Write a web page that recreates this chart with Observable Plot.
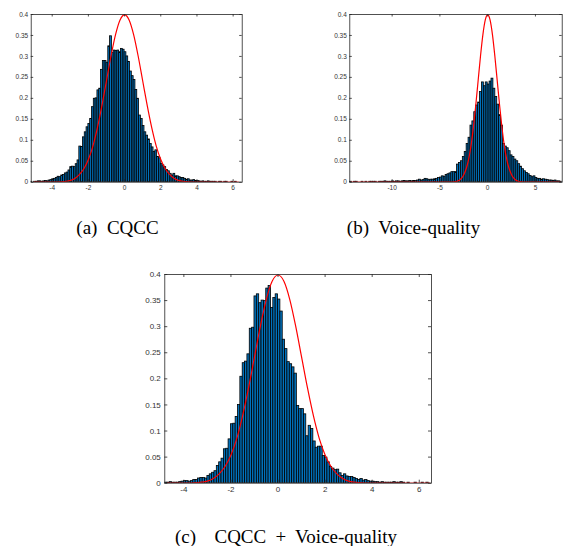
<!DOCTYPE html>
<html>
<head>
<meta charset="utf-8">
<script src="https://cdn.jsdelivr.net/npm/d3@7"></script>
<script src="https://cdn.jsdelivr.net/npm/@observablehq/plot@0.6"></script>
<style>
  html, body { margin: 0; padding: 0; background: #fff; }
  body { width: 563px; height: 546px; position: relative; overflow: hidden; }
  .panel { position: absolute; }
  #captions { position: absolute; left: 0; top: 0; }
</style>
</head>
<body>
<div id="pa" class="panel" style="left:0px;top:0px"></div>
<div id="pb" class="panel" style="left:320px;top:0px"></div>
<div id="pc" class="panel" style="left:130px;top:260px"></div>
<svg id="captions" width="563" height="546">
  <text x="117.5" y="234" text-anchor="middle" xml:space="preserve" font-family="Liberation Serif, Times New Roman, serif" font-size="19" fill="#000">(a)  CQCC</text>
  <text x="413.5" y="234" text-anchor="middle" xml:space="preserve" font-family="Liberation Serif, Times New Roman, serif" font-size="19" fill="#000">(b)  Voice-quality</text>
  <text x="286" y="543" text-anchor="middle" xml:space="preserve" font-family="Liberation Serif, Times New Roman, serif" font-size="19" fill="#000" style="word-spacing:4.5px">(c)  CQCC + Voice-quality</text>
</svg>
<script>
// ---------- shared data ----------
const yTicks = [0, 0.05, 0.1, 0.15, 0.2, 0.25, 0.3, 0.35, 0.4];

// red reference curve (standard-normal shape)
const curveX = [-4, -3.75, -3.5, -3.25, -3, -2.75, -2.5, -2.25, -2, -1.75, -1.5, -1.25, -1, -0.75, -0.5, -0.25,
                0, 0.25, 0.5, 0.75, 1, 1.25, 1.5, 1.75, 2, 2.25, 2.5, 2.75, 3, 3.25, 3.5, 3.75, 4];
const curveY = [0.000, 0.000, 0.001, 0.002, 0.004, 0.009, 0.018, 0.032, 0.054, 0.086, 0.130, 0.183, 0.242, 0.301, 0.352, 0.387,
                0.399, 0.387, 0.352, 0.301, 0.242, 0.183, 0.130, 0.086, 0.054, 0.032, 0.018, 0.009, 0.004, 0.002, 0.001, 0.000, 0.000];

// ---------- (a) CQCC ----------
const aXTicks = [-4, -2, 0, 2, 4, 6];
const aXDomain = [-5.16, 6.5];
const aCurveEnds = [-5.0, 6.3];
const aBinStart = -5.2, aBinWidth = 0.1;
const aDensity = [
  0.001, 0.000, 0.001, 0.001, 0.002, 0.002, 0.001, 0.002, 0.003, 0.002,
  0.004, 0.005, 0.007, 0.008, 0.010, 0.013, 0.012, 0.016, 0.017, 0.021,
  0.023, 0.028, 0.036, 0.037, 0.036, 0.043, 0.052, 0.085, 0.084, 0.107,
  0.119, 0.131, 0.139, 0.151, 0.179, 0.199, 0.200, 0.219, 0.223, 0.268,
  0.289, 0.289, 0.285, 0.324, 0.348, 0.308, 0.314, 0.313, 0.314, 0.310,
  0.318, 0.316, 0.310, 0.300, 0.287, 0.264, 0.253, 0.244, 0.220, 0.199,
  0.159, 0.151, 0.134, 0.119, 0.111, 0.102, 0.091, 0.083, 0.072, 0.076,
  0.060, 0.057, 0.044, 0.040, 0.036, 0.029, 0.026, 0.020, 0.016, 0.020,
  0.014, 0.014, 0.012, 0.010, 0.010, 0.008, 0.006, 0.007, 0.004, 0.004,
  0.005, 0.003, 0.003, 0.002, 0.001, 0.002, 0.001, 0.001, 0.002, 0.001,
  0.001, 0.001, 0.001, 0.000, 0.001, 0.001, 0.000, 0.001, 0.001, 0.000,
  0.000, 0.001, 0.000, 0.001
];

// ---------- (b) Voice-quality ----------
const bXTicks = [-10, -5, 0, 5];
const bXDomain = [-14.43, 7.8];
const bCurveEnds = [-14.3, 7.6];
const bBinStart = -14.6, bBinWidth = 0.2;
const bDensity = [
  0.001, 0.001, 0.000, 0.001, 0.001, 0.000, 0.000, 0.001, 0.000, 0.001,
  0.000, 0.001, 0.001, 0.001, 0.001, 0.000, 0.001, 0.001, 0.001, 0.002,
  0.001, 0.001, 0.001, 0.002, 0.001, 0.002, 0.002, 0.001, 0.002, 0.003,
  0.002, 0.002, 0.003, 0.002, 0.003, 0.003, 0.004, 0.006, 0.004, 0.005,
  0.008, 0.007, 0.005, 0.006, 0.006, 0.007, 0.008, 0.010, 0.011, 0.014,
  0.013, 0.017, 0.019, 0.021, 0.024, 0.024, 0.024, 0.042, 0.046, 0.050,
  0.060, 0.072, 0.091, 0.106, 0.135, 0.145, 0.167, 0.183, 0.190, 0.215,
  0.238, 0.229, 0.238, 0.233, 0.240, 0.247, 0.223, 0.203, 0.185, 0.160,
  0.135, 0.091, 0.085, 0.081, 0.074, 0.064, 0.060, 0.054, 0.050, 0.043,
  0.037, 0.031, 0.026, 0.022, 0.019, 0.015, 0.012, 0.014, 0.010, 0.008,
  0.008, 0.006, 0.007, 0.006, 0.005, 0.004, 0.004, 0.003, 0.004, 0.002,
  0.002, 0.001
];

// ---------- (c) CQCC + Voice-quality ----------
const cXTicks = [-4, -2, 0, 2, 4, 6];
const cXDomain = [-4.81, 6.52];
const cCurveEnds = [-4.7, 6.45];
const cBinStart = -4.8, cBinWidth = 0.1;
const cDensity = [
  0.001, 0.001, 0.002, 0.001, 0.001, 0.001, 0.002, 0.003, 0.004, 0.004,
  0.003, 0.004, 0.006, 0.006, 0.009, 0.010, 0.010, 0.009, 0.014, 0.017,
  0.020, 0.023, 0.033, 0.040, 0.047, 0.065, 0.066, 0.084, 0.113, 0.114,
  0.127, 0.150, 0.204, 0.230, 0.233, 0.247, 0.296, 0.298, 0.358, 0.362,
  0.345, 0.350, 0.349, 0.373, 0.378, 0.336, 0.355, 0.362, 0.352, 0.329,
  0.275, 0.257, 0.232, 0.228, 0.222, 0.210, 0.148, 0.142, 0.142, 0.132,
  0.090, 0.110, 0.104, 0.080, 0.068, 0.070, 0.070, 0.052, 0.049, 0.040,
  0.031, 0.028, 0.025, 0.026, 0.019, 0.014, 0.017, 0.013, 0.012, 0.012,
  0.010, 0.008, 0.006, 0.008, 0.005, 0.006, 0.004, 0.003, 0.003, 0.002,
  0.002, 0.001, 0.002, 0.001, 0.001, 0.001, 0.001, 0.002, 0.001, 0.001,
  0.002, 0.001, 0.000, 0.001, 0.000, 0.000, 0.001, 0.000, 0.000, 0.001,
  0.000, 0.001
];

// ---------- drawing ----------
function panel(cfg) {
  const {density, binStart, binWidth, xDomain, xTicks, curveEnds, W, H, m, fontSize, tick, pad} = cfg;
  const bins = density.map((v, i) => ({x1: binStart + i * binWidth, x2: binStart + (i + 1) * binWidth, v}));
  const curve = [{x: curveEnds[0], y: 0}]
    .concat(curveX.map((x, i) => ({x, y: curveY[i]})))
    .concat([{x: curveEnds[1], y: 0}]);
  const bw = W - m.left - m.right, bh = H - m.top - m.bottom;
  const axisColor = "#262626";
  return Plot.plot({
    width: W, height: H,
    marginLeft: m.left, marginRight: m.right, marginTop: m.top, marginBottom: m.bottom,
    x: {domain: xDomain, label: null},
    y: {domain: [0, 0.4], label: null},
    style: {fontFamily: "'Liberation Sans', Arial, sans-serif", fontSize: fontSize + "px", color: "#333", background: "transparent", overflow: "visible"},
    marks: [
      Plot.rect(bins, {x1: "x1", x2: "x2", y1: 0, y2: "v", fill: "#0072BD", stroke: "#000", strokeWidth: 0.8, clip: true}),
      Plot.line(curve, {x: "x", y: "y", stroke: "#ff0000", strokeWidth: 1.2, curve: "monotone-x", clip: true}),
      Plot.frame({stroke: axisColor, strokeWidth: 0.8}),
      Plot.tickX(xTicks, {x: d => d, insetTop: bh - tick, stroke: axisColor, strokeWidth: 0.8}),
      Plot.tickX(xTicks, {x: d => d, insetBottom: bh - tick, stroke: axisColor, strokeWidth: 0.8}),
      Plot.tickY(yTicks, {y: d => d, insetRight: bw - tick, stroke: axisColor, strokeWidth: 0.8}),
      Plot.tickY(yTicks, {y: d => d, insetLeft: bw - tick, stroke: axisColor, strokeWidth: 0.8}),
      Plot.axisX({ticks: xTicks, tickSize: 0, tickPadding: pad.x, tickFormat: d => String(d), label: null}),
      Plot.axisY({ticks: yTicks, tickSize: 0, tickPadding: pad.y, tickFormat: d => String(d), label: null})
    ]
  });
}

document.getElementById("pa").append(panel({
  density: aDensity, binStart: aBinStart, binWidth: aBinWidth, xDomain: aXDomain, xTicks: aXTicks, curveEnds: aCurveEnds,
  W: 250, H: 195, m: {left: 30.7, right: 8.3, top: 14, bottom: 13.3}, fontSize: 6.5, tick: 2.5, pad: {x: 3, y: 3}
}));
document.getElementById("pb").append(panel({
  density: bDensity, binStart: bBinStart, binWidth: bBinWidth, xDomain: bXDomain, xTicks: bXTicks, curveEnds: bCurveEnds,
  W: 243, H: 195, m: {left: 29.3, right: 1.3, top: 14, bottom: 13.3}, fontSize: 6.5, tick: 2.5, pad: {x: 3, y: 3}
}));
document.getElementById("pc").append(panel({
  density: cDensity, binStart: cBinStart, binWidth: cBinWidth, xDomain: cXDomain, xTicks: cXTicks, curveEnds: cCurveEnds,
  W: 310, H: 240, m: {left: 34.3, right: 9, top: 14, bottom: 17.3}, fontSize: 8, tick: 3, pad: {x: 3, y: 4}
}));
</script>
</body>
</html>
